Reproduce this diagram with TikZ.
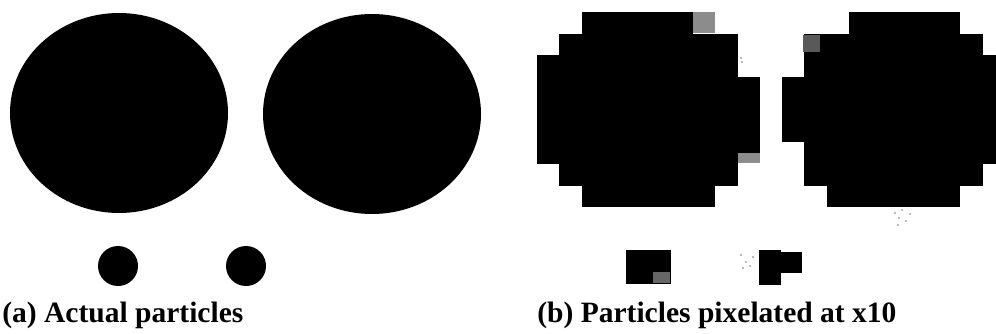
\documentclass[tikz,border=0pt]{standalone}
\usepackage{fontspec}
\setmainfont{Liberation Serif}
\tikzset{
  caption/.style={anchor=base west, inner sep=0pt, font=\bfseries\fontsize{16.8}{20}\selectfont},
  speckle/.style={fill=black!45},
}
\begin{document}
\begin{tikzpicture}[x=0.02cm, y=-0.02cm]
  \useasboundingbox (0,0) rectangle (996,334);
  \clip (0,0) rectangle (996,334);
  % (a) the actual particles, two large and two small
  \fill (119,113) ellipse [x radius=109, y radius=100];
  \fill (372,114) ellipse [x radius=109, y radius=100];
  \fill (118,266) circle [radius=20];
  \fill (246,266) circle [radius=20];
  \node[caption] (capa) at (2,322) {(a) Actual particles};
  % (b) first large particle, row/first cell/last cell
  \foreach \r/\a/\b in {0/2/6, 1/1/8, 2/0/8, 3/0/9, 4/0/9, 5/0/9, 7/1/8, 8/2/7}
    \fill ({537+\a*22.3},{12+\r*21.7}) rectangle ({537+(\b+1)*22.3},{12+(\r+1)*21.7});
  \fill (537,142.2) rectangle (738,164);
  \fill (738,142.2) rectangle (760,153);
  \fill[speckle] (738,153) rectangle (760,163);
  \fill[speckle] (693,12) rectangle (715,33);
  % second large particle
  \foreach \r/\a/\b in {0/3/7, 1/1/8, 2/1/9, 3/0/9, 4/0/9, 5/0/9, 6/1/9, 7/1/8, 8/2/7}
    \fill ({782+\a*22.3},{12+\r*21.7}) rectangle ({782+(\b+1)*22.3},{12+(\r+1)*21.7});
  \fill[black!65] (803,35) rectangle (820,52);
  % the small ones after pixelation
  \fill (626,250) rectangle (671,284);
  \fill[black!60] (653,272) rectangle (670,283);
  \fill (759,250) rectangle (781,285);
  \fill (781,252) rectangle (802,273);
  % stray grey dots
  \foreach \p in {(741,255),(746,262),(743,268),(750,266),(753,257),(895,213),(902,210),
                  (899,218),(906,221),(898,225),(910,214),(741,58),(742,62)}
    \fill[black!55] \p circle [radius=0.9];
  \node[caption] (capb) at (537,322) {(b) Particles pixelated at x10};
\end{tikzpicture}
\end{document}
